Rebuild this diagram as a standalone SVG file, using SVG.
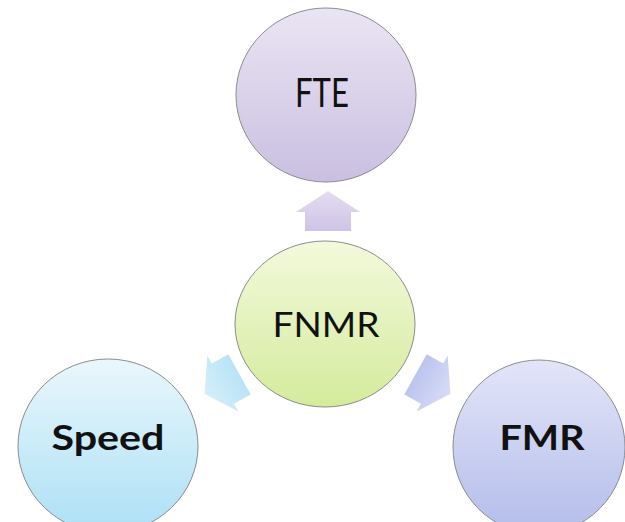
<svg xmlns="http://www.w3.org/2000/svg" width="625" height="522" viewBox="0 0 625 522">
  <defs>
    <linearGradient id="gFte" x1="0" y1="0" x2="0" y2="1">
      <stop offset="0" stop-color="#eae5f3"/>
      <stop offset="1" stop-color="#cabfe1"/>
    </linearGradient>
    <linearGradient id="gFnmr" x1="0" y1="0" x2="0" y2="1">
      <stop offset="0" stop-color="#f3f9dc"/>
      <stop offset="1" stop-color="#d4eb9c"/>
    </linearGradient>
    <linearGradient id="gSpeed" x1="0" y1="0" x2="0" y2="1">
      <stop offset="0" stop-color="#e9f7fc"/>
      <stop offset="1" stop-color="#ace0f5"/>
    </linearGradient>
    <linearGradient id="gFmr" x1="0" y1="0" x2="0" y2="1">
      <stop offset="0" stop-color="#e2e5f8"/>
      <stop offset="1" stop-color="#b4bcea"/>
    </linearGradient>
    <linearGradient id="gArrUp" x1="0" y1="0" x2="0" y2="1">
      <stop offset="0" stop-color="#e3dcf0"/>
      <stop offset="1" stop-color="#cfc4e6"/>
    </linearGradient>
    <linearGradient id="gArrL" x1="0" y1="0" x2="0" y2="1">
      <stop offset="0" stop-color="#d5effa"/>
      <stop offset="1" stop-color="#b9e3f6"/>
    </linearGradient>
    <linearGradient id="gArrR" x1="0" y1="0" x2="0" y2="1">
      <stop offset="0" stop-color="#d8dcf6"/>
      <stop offset="1" stop-color="#bcc4ee"/>
    </linearGradient>
    <!-- block arrow pointing up, centred on the origin -->
    <path id="blockArrow" d="M0,-20 L32,1 L23,1 L23,20 L-23,20 L-23,1 L-32,1 Z"/>
  </defs>
  <style>
    .node { stroke: #8c8c8c; stroke-width: 1; }
    .lbl { font-family: Lato, "Liberation Sans", Arial, sans-serif; fill: #111; text-anchor: middle; }
    .bold { font-weight: bold; }
    .arrow { stroke: none; }
  </style>
  <rect width="625" height="522" fill="#ffffff"/>

  <g id="connectors">
    <use href="#blockArrow" class="arrow" fill="url(#gArrUp)" transform="translate(328,211)"/>
    <use href="#blockArrow" class="arrow" fill="url(#gArrL)" transform="translate(222,384) rotate(-119)"/>
    <use href="#blockArrow" class="arrow" fill="url(#gArrR)" transform="translate(433,384) rotate(119)"/>
  </g>

  <g id="node-fte">
    <ellipse class="node" cx="326" cy="95" rx="90" ry="87" fill="url(#gFte)"/>
    <text class="lbl" x="322" y="107" font-size="40" textLength="54" lengthAdjust="spacingAndGlyphs">FTE</text>
  </g>

  <g id="node-fnmr">
    <ellipse class="node" cx="325" cy="324" rx="90" ry="83" fill="url(#gFnmr)"/>
    <text class="lbl" x="326" y="337" font-size="35" textLength="107" lengthAdjust="spacingAndGlyphs">FNMR</text>
  </g>

  <g id="node-speed">
    <ellipse class="node" cx="108" cy="446" rx="90" ry="87" fill="url(#gSpeed)"/>
    <text class="lbl bold" x="108" y="450" font-size="35" textLength="113" lengthAdjust="spacingAndGlyphs">Speed</text>
  </g>

  <g id="node-fmr">
    <ellipse class="node" cx="539" cy="447" rx="86" ry="87" fill="url(#gFmr)"/>
    <text class="lbl bold" x="542" y="450" font-size="35" textLength="85" lengthAdjust="spacingAndGlyphs">FMR</text>
  </g>
</svg>
